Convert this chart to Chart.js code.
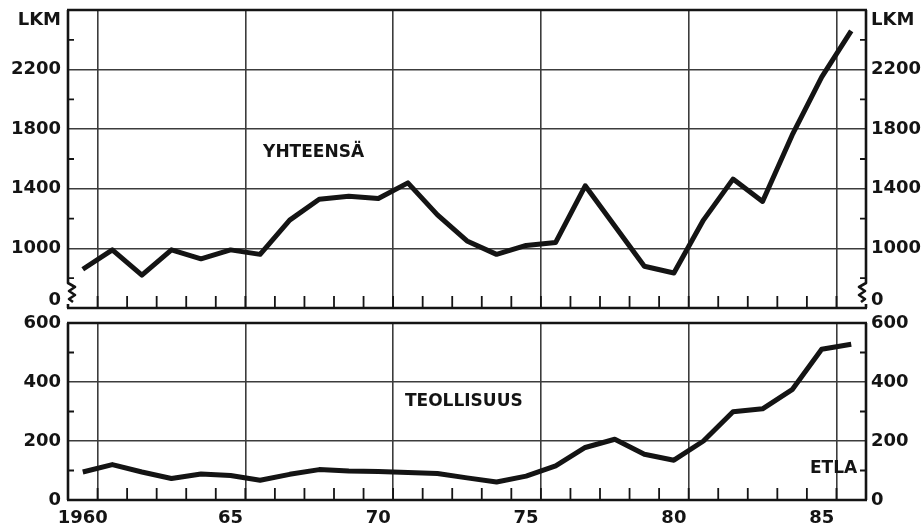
<!DOCTYPE html>
<html>
<head>
<meta charset="utf-8">
<script src="https://cdn.jsdelivr.net/npm/chart.js@4.4.0/dist/chart.umd.min.js"></script>
<style>
  body { margin: 0; background: #fff; }
  #wrap { position: relative; width: 924px; height: 530px; }
  canvas { position: absolute; left: 0; }
</style>
</head>
<body>
<div id="wrap">
  <canvas id="topChart" width="924" height="320" style="top:0"></canvas>
  <canvas id="bottomChart" width="924" height="224" style="top:306px"></canvas>
</div>
<script>
// data
const years = [1960, 1961, 1962, 1963, 1964, 1965, 1966, 1967, 1968, 1969,
  1970, 1971, 1972, 1973, 1974, 1975, 1976, 1977, 1978, 1979,
  1980, 1981, 1982, 1983, 1984, 1985, 1986];
const totalCount = [860, 990, 820, 990, 930, 990, 960, 1190, 1330, 1350,
  1335, 1440, 1225, 1050, 960, 1020, 1040, 1420, 1150, 880,
  835, 1190, 1465, 1315, 1760, 2150, 2460];
const industryCount = [95, 120, 95, 73, 88, 83, 67, 87, 103, 98,
  97, 93, 90, 75, 61, 81, 116, 178, 206, 155,
  135, 200, 299, 309, 374, 511, 528];

const labelYears = [1960, 1965, 1970, 1975, 1980, 1985];
const yearLabels = ['1960', '65', '70', '75', '80', '85'];

const topTicks = [1000, 1400, 1800, 2200];
const topMinorTicks = [800, 1200, 1600, 2000, 2400];
const topZeroMark = 650;   // where the broken axis shows "0"
const topUnitMark = 2530;  // where "LKM" sits
const bottomTicks = [0, 200, 400, 600];
const bottomMinorTicks = [100, 300, 500];

const INK = '#141414';
const GRID = '#3c3c3c';
Chart.defaults.font.family = 'DejaVu Sans';
Chart.defaults.font.weight = 'bold';
Chart.defaults.font.size = 18;
Chart.defaults.color = INK;

const xMin = years[0] - 0.5;
const xMax = years[years.length - 1] + 0.5;

function noPad(sc) {
  sc.paddingTop = 0; sc.paddingBottom = 0;
  sc.paddingLeft = 0; sc.paddingRight = 0;
}

// frame, inward minor ticks, broken axis marks and panel texts
const decor = {
  id: 'decor',
  afterDraw(chart, args, o) {
    const ctx = chart.ctx;
    const a = chart.chartArea;
    const xs = chart.scales.x;
    const ys = chart.scales.y;
    ctx.save();
    ctx.strokeStyle = INK;
    ctx.lineWidth = 1.8;
    ctx.beginPath();
    // year ticks along the bottom
    years.slice(0, -1).forEach(y => {
      const px = xs.getPixelForValue(y + 0.5);
      ctx.moveTo(px, a.bottom);
      ctx.lineTo(px, a.bottom - 12);
    });
    // minor value ticks on both sides
    o.minor.forEach(v => {
      const py = ys.getPixelForValue(v);
      ctx.moveTo(a.left, py); ctx.lineTo(a.left + 6, py);
      ctx.moveTo(a.right, py); ctx.lineTo(a.right - 6, py);
    });
    ctx.stroke();

    ctx.lineWidth = 2.6;
    ctx.lineJoin = 'round';
    ctx.beginPath();
    ctx.moveTo(a.left - 1, a.top); ctx.lineTo(a.right + 1, a.top);
    ctx.moveTo(a.left - 1, a.bottom); ctx.lineTo(a.right + 1, a.bottom);
    [[a.left, 1], [a.right, -1]].forEach(([x, d]) => {
      ctx.moveTo(x, a.top);
      if (o.broken) {
        const b = a.bottom;
        ctx.lineTo(x, b - 25);
        ctx.lineTo(x + 7 * d, b - 21);
        ctx.lineTo(x + 1 * d, b - 17);
        ctx.lineTo(x + 7 * d, b - 13);
        ctx.lineTo(x + 1 * d, b - 9);
        ctx.lineTo(x + 5 * d, b - 6);
        ctx.moveTo(x, b - 4);
      }
      ctx.lineTo(x, a.bottom);
    });
    ctx.stroke();

    ctx.fillStyle = INK;
    ctx.font = 'bold 17px "DejaVu Sans"';
    ctx.textBaseline = 'middle';
    o.texts.forEach(t => {
      ctx.textAlign = t.align;
      ctx.fillText(t.text, xs.getPixelForValue(t.x), ys.getPixelForValue(t.y));
    });
    ctx.restore();
  }
};

const lineStyle = {
  borderColor: INK,
  borderWidth: 5,
  pointRadius: 0,
  tension: 0,
  borderJoinStyle: 'round',
  borderCapStyle: 'butt'
};

function gridXAxis(extra) {
  return Object.assign({
    type: 'linear',
    position: 'bottom',
    min: xMin,
    max: xMax,
    ticks: { display: false },
    border: { display: false },
    grid: { color: GRID, lineWidth: 1.6, drawTicks: false },
    afterBuildTicks: sc => { sc.ticks = labelYears.map(y => ({ value: y + 0.5 })); }
  }, extra);
}

function valueAxis(pos, min, max, tickVals, label, gridVals, width, pad) {
  return {
    type: 'linear',
    position: pos,
    min: min,
    max: max,
    border: { display: false },
    grid: {
      display: pos === 'left',
      drawTicks: false,
      lineWidth: 1.6,
      color: c => (c.tick && gridVals.includes(c.tick.value)) ? GRID : 'rgba(0,0,0,0)'
    },
    ticks: { padding: pad, callback: label },
    afterBuildTicks: sc => { sc.ticks = tickVals.map(v => ({ value: v })); },
    afterFit: sc => { sc.width = width; noPad(sc); }
  };
}

const topLabel = v => v === topZeroMark ? '0' : v === topUnitMark ? 'LKM' : String(v);
const topTickVals = [topZeroMark, ...topTicks, topUnitMark];

new Chart(document.getElementById('topChart'), {
  type: 'line',
  data: {
    datasets: [Object.assign({
      label: 'YHTEENSÄ',
      data: years.map((y, i) => ({ x: y, y: totalCount[i] }))
    }, lineStyle)]
  },
  options: {
    responsive: false,
    animation: false,
    layout: { padding: { top: 10, left: 0, right: 0, bottom: 0 } },
    plugins: {
      legend: { display: false },
      tooltip: { enabled: false },
      decor: {
        broken: true,
        minor: topMinorTicks,
        texts: [{ text: 'YHTEENSÄ', x: 1966.1, y: 1640, align: 'left' }]
      }
    },
    scales: {
      x: gridXAxis({ afterFit: sc => { sc.height = 12; noPad(sc); } }),
      y: valueAxis('left', 600, 2600, topTickVals, topLabel, topTicks, 68, 7),
      y2: valueAxis('right', 600, 2600, topTickVals, topLabel, topTicks, 58, 5)
    }
  },
  plugins: [decor]
});

new Chart(document.getElementById('bottomChart'), {
  type: 'line',
  data: {
    datasets: [Object.assign({
      label: 'TEOLLISUUS',
      data: years.map((y, i) => ({ x: y, y: industryCount[i] }))
    }, lineStyle)]
  },
  options: {
    responsive: false,
    animation: false,
    layout: { padding: { top: 17, left: 0, right: 0, bottom: 0 } },
    plugins: {
      legend: { display: false },
      tooltip: { enabled: false },
      decor: {
        broken: false,
        minor: bottomMinorTicks,
        texts: [
          { text: 'TEOLLISUUS', x: 1970.9, y: 332, align: 'left' },
          { text: 'ETLA', x: 1986.2, y: 107, align: 'right' }
        ]
      }
    },
    scales: {
      x: gridXAxis({ afterFit: sc => { sc.height = 0; noPad(sc); } }),
      xl: {
        type: 'linear',
        position: 'bottom',
        min: xMin,
        max: xMax,
        border: { display: false },
        grid: { display: false, drawTicks: false },
        ticks: {
          padding: 8,
          autoSkip: false,
          maxRotation: 0,
          callback: v => yearLabels[labelYears.indexOf(v)]
        },
        afterBuildTicks: sc => { sc.ticks = labelYears.map(y => ({ value: y })); },
        afterFit: sc => { sc.height = 30; noPad(sc); }
      },
      y: valueAxis('left', 0, 600, bottomTicks, v => String(v), [200, 400], 68, 7),
      y2: valueAxis('right', 0, 600, bottomTicks, v => String(v), [200, 400], 58, 5)
    }
  },
  plugins: [decor]
});
</script>
</body>
</html>
